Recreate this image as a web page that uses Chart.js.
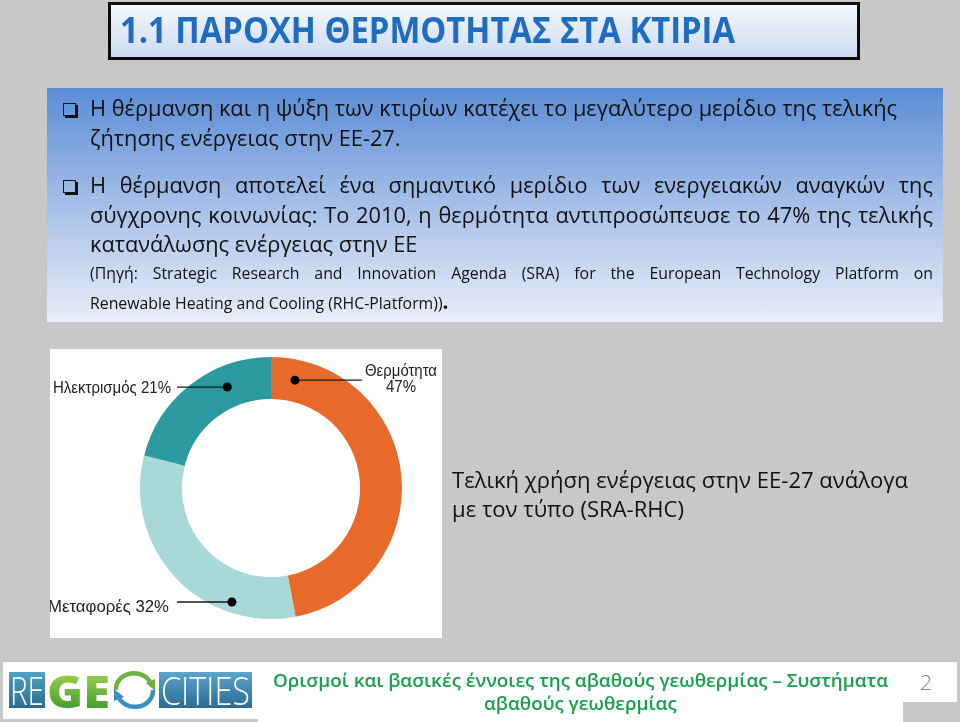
<!DOCTYPE html>
<html>
<head>
<meta charset="utf-8">
<script src="https://cdn.jsdelivr.net/npm/chart.js@4"></script>
<style>
  html, body { margin: 0; padding: 0; }
  body { width: 960px; height: 722px; background: #c8c8c8; position: relative; overflow: hidden; }
  .box { position: absolute; box-sizing: border-box; }
  .ln { position: absolute; white-space: nowrap; transform-origin: 0 0; }
  .chk { position: absolute; width: 11px; height: 11px; border: 1.5px solid #111; box-shadow: 2px 2px 0 #111; }
  #chartBox { position: absolute; left: 50px; top: 349px; width: 392px; height: 289px; background: #fff; }
</style>
</head>
<body>
<div class="box" style="left:108px;top:2px;width:752px;height:58px;border:3px solid #0c0c0c;background:linear-gradient(#f6f8fd,#cddbf0);"></div>
<div class="box" style="left:47px;top:88px;width:896px;height:234px;background:linear-gradient(#5a8cd6,#a6bfe8 50%,#e9eef8);"></div>
<div class="chk" style="left:63px;top:103px;"></div>
<div class="chk" style="left:63px;top:180px;"></div>

<div id="chartBox"><canvas id="shareChart" width="392" height="289"></canvas></div>

<!-- footer -->
<div class="box" style="left:3px;top:662px;width:255px;height:57px;background:#fff;"></div>
<div class="box" style="left:258px;top:662px;width:645px;height:60px;background:#fff;"></div>
<div class="box" style="left:888px;top:662px;width:69px;height:40px;background:#fff;"></div>
<div class="box" style="left:9px;top:672px;width:36px;height:36px;background:linear-gradient(#4fa3c4,#2a6c92);"></div>
<div class="box" style="left:159px;top:672px;width:93px;height:36px;background:linear-gradient(#5aa6cc,#2b6a93);"></div>
<svg class="box" style="left:110px;top:667px;" width="50" height="46" viewBox="0 0 50 46">
  <path d="M6 23 A18 16 0 0 1 41 17" fill="none" stroke="#6db43f" stroke-width="4.5"/>
  <path d="M36 16 L45 12 L45 24 Z" fill="#6db43f"/>
  <path d="M43 23 A18 16 0 0 1 8 29" fill="none" stroke="#3a8fc0" stroke-width="4.5"/>
  <path d="M14 30 L4 34 L4 22 Z" fill="#3a8fc0"/>
</svg>

<script>
// ---- chart data ----
const categories = ['Θερμότητα', 'Μεταφορές', 'Ηλεκτρισμός'];
const shares = [47, 32, 21];
const sliceColors = ['#e86a2b', '#a9d8d8', '#2b9aa0'];

// callout placement for each slice: where the dot sits inside the arc, and where the text goes
const callouts = [
  { along: 0.074, depth: 0.51, lineTo: 312, align: 'center', textX: 351, dy: [-4, 12], fitW: [72, 30], twoLines: true },
  { along: 0.258, depth: 0.75, lineTo: 127, align: 'right', textX: 119, dy: [10], fitW: [121] },
  { along: 0.69, depth: 0.50, lineTo: 127, align: 'right', textX: 121, dy: [6], fitW: [118] }
];

const calloutPlugin = {
  id: 'callouts',
  afterDatasetsDraw(chart) {
    const ctx = chart.ctx;
    const arcs = chart.getDatasetMeta(0).data;
    arcs.forEach((arc, i) => {
      const c = callouts[i];
      const p = arc.getProps(['x', 'y', 'startAngle', 'endAngle', 'innerRadius', 'outerRadius'], true);
      const a = p.startAngle + (p.endAngle - p.startAngle) * c.along;
      const r = p.innerRadius + (p.outerRadius - p.innerRadius) * c.depth;
      const px = p.x + Math.cos(a) * r;
      const py = p.y + Math.sin(a) * r;
      ctx.save();
      ctx.strokeStyle = '#1a1a1a';
      ctx.lineWidth = 1.3;
      ctx.beginPath();
      ctx.moveTo(px, py);
      ctx.lineTo(c.lineTo, py);
      ctx.stroke();
      ctx.fillStyle = '#000';
      ctx.beginPath();
      ctx.arc(px, py, 4.5, 0, Math.PI * 2);
      ctx.fill();
      ctx.fillStyle = '#222';
      ctx.font = '16.5px "Liberation Sans", Arial, sans-serif';
      ctx.textAlign = c.align;
      ctx.textBaseline = 'alphabetic';
      const lines = c.twoLines
        ? [categories[i], shares[i] + '%']
        : [categories[i] + ' ' + shares[i] + '%'];
      lines.forEach((t, k) => {
        const sx = c.fitW[k] / ctx.measureText(t).width;
        ctx.save();
        ctx.translate(c.textX, py + c.dy[k]);
        ctx.scale(sx, 1);
        ctx.fillText(t, 0, 0);
        ctx.restore();
      });
      ctx.restore();
    });
  }
};

new Chart(document.getElementById('shareChart'), {
  type: 'doughnut',
  data: {
    labels: categories,
    datasets: [{
      data: shares,
      backgroundColor: sliceColors,
      borderWidth: 0,
      hoverOffset: 0,
      offset: 0
    }]
  },
  options: {
    responsive: false,
    animation: false,
    events: [],
    cutout: '68%',
    layout: { padding: { left: 90, right: 40, top: 8, bottom: 19 } },
    plugins: {
      legend: { display: false },
      tooltip: { enabled: false }
    }
  },
  plugins: [calloutPlugin]
});

// ---- slide text ----
const ASC = 0.888; // baseline offset for Open Sans with line-height 1

function line(text, o) {
  const el = document.createElement('div');
  el.className = 'ln';
  if (o.tail) {
    el.textContent = text;
    const t = document.createElement('span');
    t.textContent = o.tail;
    t.style.fontSize = o.tailSize + 'px';
    t.style.fontWeight = 700;
    el.appendChild(t);
  } else {
    el.textContent = text;
  }
  const fam = o.family || '"Open Sans", sans-serif';
  el.style.font = (o.weight || 400) + ' ' + o.size + 'px ' + fam;
  el.style.lineHeight = o.size + 'px';
  el.style.color = o.color || '#111';
  el.style.top = (o.base - o.size * (o.asc || ASC)) + 'px';
  if (o.css) Object.assign(el.style, o.css);
  document.body.appendChild(el);
  const w = el.getBoundingClientRect().width;
  let s;
  if (o.justify) {
    s = Math.min(o.scale || 1, o.width / w);
    el.style.whiteSpace = 'normal';
    el.style.width = (o.width / s + 1) + 'px';
    el.style.textAlign = 'justify';
    el.style.textAlignLast = 'justify';
  } else if (o.width) {
    s = o.width / w;
  } else {
    s = o.scale || 1;
  }
  el.style.transform = 'scaleX(' + s + ')';
  const shown = o.justify ? o.width : w * s;
  el.style.left = (o.cx !== undefined ? o.cx - shown / 2 : o.x) + 'px';
  return s;
}

line('1.1 ΠΑΡΟΧΗ ΘΕΡΜΟΤΗΤΑΣ ΣΤΑ ΚΤΙΡΙΑ', { x: 120, base: 44, size: 36, weight: 700, color: '#1f6dc0', width: 615 });

const sb = line('Η θέρμανση και η ψύξη των κτιρίων κατέχει το μεγαλύτερο μερίδιο της τελικής', { x: 90, base: 116, size: 22, width: 807 });
line('ζήτησης ενέργειας στην ΕΕ-27.', { x: 90, base: 146, size: 22, scale: sb });
line('Η θέρμανση αποτελεί ένα σημαντικό μερίδιο των ενεργειακών αναγκών της', { x: 90, base: 193, size: 22, width: 842, justify: true, scale: sb });
line('σύγχρονης κοινωνίας: Το 2010, η θερμότητα αντιπροσώπευσε το 47% της τελικής', { x: 90, base: 223, size: 22, width: 842, justify: true, scale: sb });
line('κατανάλωσης ενέργειας στην ΕΕ', { x: 90, base: 252, size: 22, scale: sb });
line('(Πηγή: Strategic Research and Innovation Agenda (SRA) for the European Technology Platform on', { x: 90, base: 279, size: 16, width: 842, justify: true, scale: sb });
line('Renewable Heating and Cooling (RHC-Platform))', { x: 90, base: 307, size: 16, scale: sb, tail: '.', tailSize: 21 });

const sr = line('Τελική χρήση ενέργειας στην ΕΕ-27 ανάλογα', { x: 452, base: 488, size: 22, width: 456 });
line('με τον τύπο (SRA-RHC)', { x: 452, base: 517, size: 22, scale: sr });

const sf = line('Ορισμοί και βασικές έννοιες της αβαθούς γεωθερμίας – Συστήματα', { x: 273, base: 687, size: 18, weight: 600, color: '#17a14b', width: 615 });
line('αβαθούς γεωθερμίας', { cx: 580, base: 710, size: 18, weight: 600, color: '#17a14b', scale: sf });
line('2', { x: 920, base: 691, size: 21, weight: 300, color: '#858585' });

// logo lettering
line('RE', { x: 10, base: 705, size: 38, weight: 300, color: '#ffffff', width: 34 });
line('GE', { x: 47, base: 708, size: 44, weight: 800, color: '#5aab32', width: 63,
  css: { background: 'linear-gradient(#a5d64f,#3b972b)', webkitBackgroundClip: 'text', backgroundClip: 'text', color: 'transparent' } });
line('CITIES', { x: 161, base: 705, size: 38, weight: 300, color: '#ffffff', width: 89 });
</script>
</body>
</html>
